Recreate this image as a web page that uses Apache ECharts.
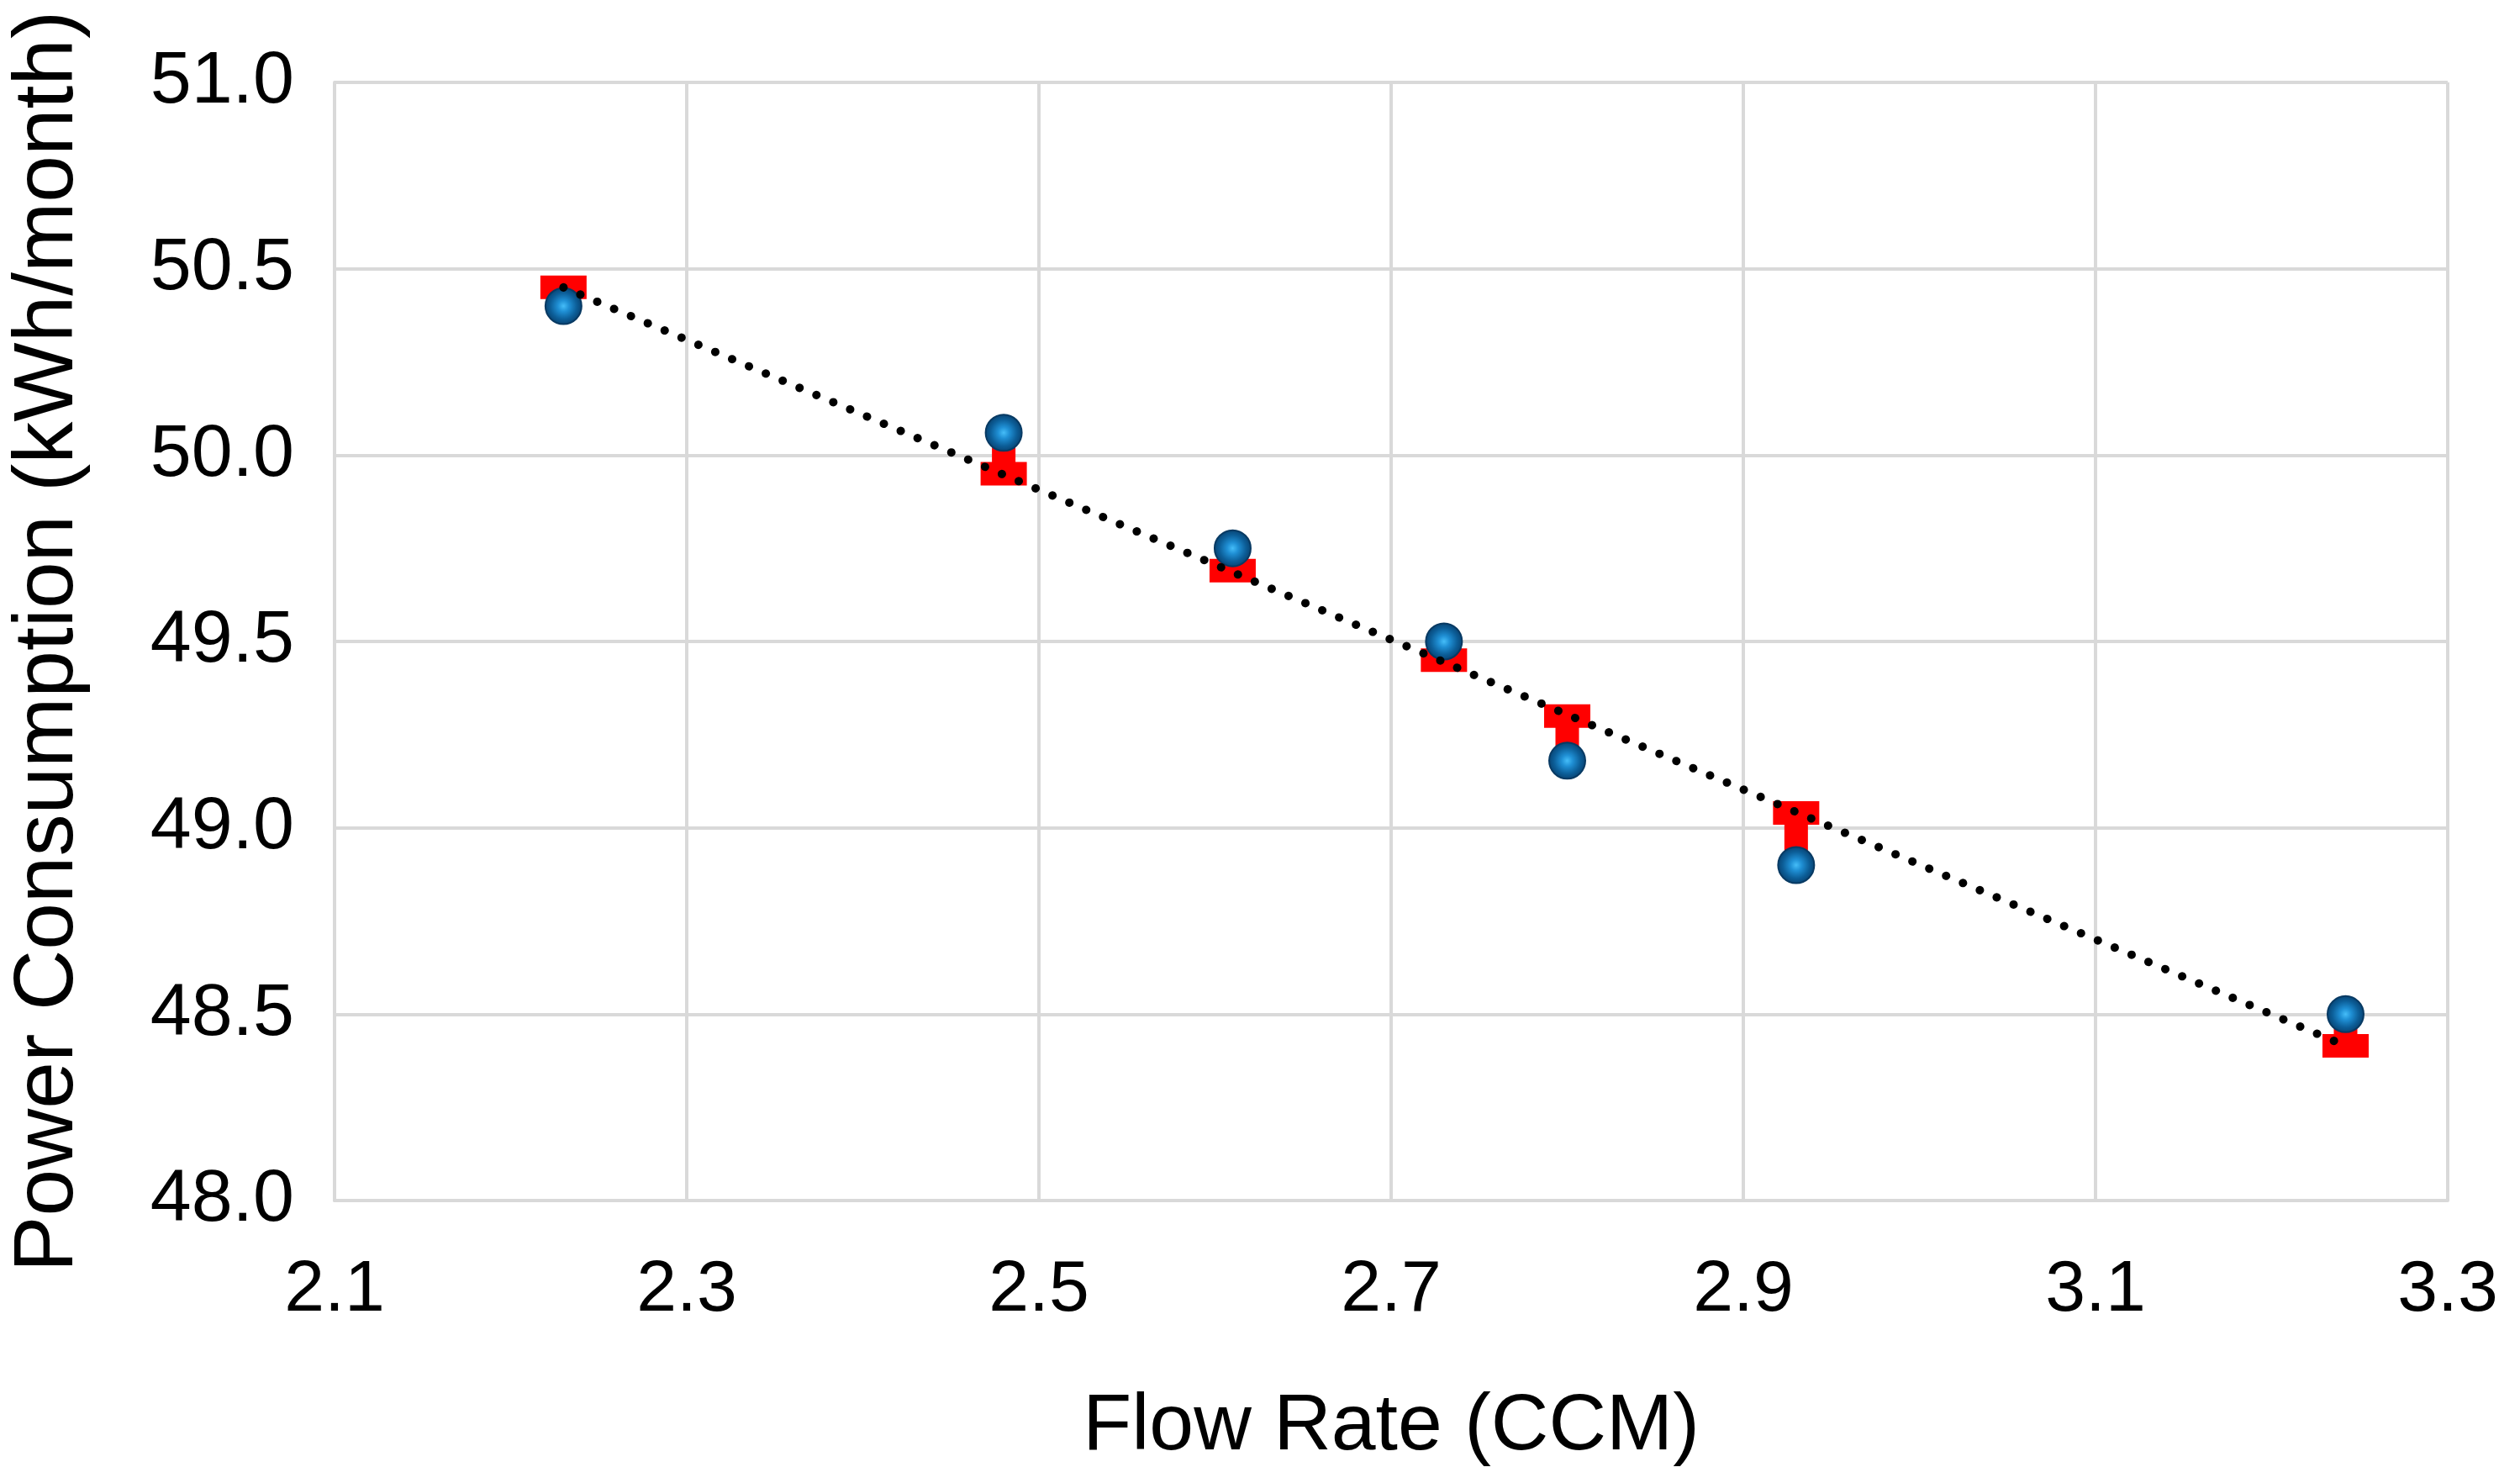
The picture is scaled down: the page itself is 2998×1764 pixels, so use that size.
<!DOCTYPE html>
<html>
<head>
<meta charset="utf-8">
<script src="https://cdn.jsdelivr.net/npm/echarts@6/dist/echarts.min.js"></script>
<style>
html,body{margin:0;padding:0;background:#fff;}
#c{width:2998px;height:1764px;}
</style>
</head>
<body>
<div id="c"></div>
<script>
// Data
var flowRate = [2.23, 2.48, 2.61, 2.73, 2.80, 2.93, 3.242];
var measured = [50.40, 50.06, 49.75, 49.50, 49.18, 48.90, 48.50];
var predicted = [50.45, 49.95, 49.69, 49.45, 49.30, 49.04, 48.415];
var trendX = [2.23, 3.242];
var trendY = [50.45, 48.415];
var xTicks = [2.1, 2.3, 2.5, 2.7, 2.9, 3.1, 3.3];
var yTicks = [48.0, 48.5, 49.0, 49.5, 50.0, 50.5, 51.0];

var FONT = "'Liberation Sans', Arial, sans-serif";
var GRID = '#d9d9d9';

var chart = echarts.init(document.getElementById('c'), null, {renderer: 'canvas'});

var option = {
  backgroundColor: '#ffffff',
  animation: false,
  grid: {left: 398, right: 86, top: 98, bottom: 336, containLabel: false},
  xAxis: {
    type: 'value',
    min: xTicks[0],
    max: xTicks[xTicks.length - 1],
    interval: 0.2,
    name: 'Flow Rate (CCM)',
    nameLocation: 'middle',
    nameGap: 222,
    nameTextStyle: {fontFamily: FONT, fontSize: 95, color: '#000'},
    axisLine: {show: true, lineStyle: {color: GRID, width: 4}},
    axisTick: {show: false},
    axisLabel: {
      fontFamily: FONT, fontSize: 86, color: '#000', margin: 64,
      formatter: function (v) { return v.toFixed(1); }
    },
    splitLine: {show: true, lineStyle: {color: GRID, width: 4}}
  },
  yAxis: {
    type: 'value',
    min: yTicks[0],
    max: yTicks[yTicks.length - 1],
    interval: 0.5,
    name: 'Power Consumption (kWh/month)',
    nameLocation: 'middle',
    nameGap: 290,
    nameTextStyle: {fontFamily: FONT, fontSize: 100, color: '#000'},
    axisLine: {show: true, lineStyle: {color: GRID, width: 4}},
    axisTick: {show: false},
    axisLabel: {
      fontFamily: FONT, fontSize: 88, color: '#000', margin: 48,
      formatter: function (v) { return v.toFixed(1); }
    },
    splitLine: {show: true, lineStyle: {color: GRID, width: 4}}
  },
  series: [
    {
      type: 'custom',
      z: 2,
      data: flowRate.map(function (x, i) { return [x, measured[i], predicted[i]]; }),
      encode: {x: 0, y: [1, 2]},
      renderItem: function (params, api) {
        var p1 = api.coord([api.value(0), api.value(1)]);
        var p2 = api.coord([api.value(0), api.value(2)]);
        return {
          type: 'rect',
          shape: {x: p1[0] - 14, y: Math.min(p1[1], p2[1]), width: 28, height: Math.abs(p2[1] - p1[1])},
          style: {fill: '#ff0000'}
        };
      }
    },
    {
      type: 'scatter',
      z: 3,
      symbol: 'rect',
      symbolSize: [55, 28],
      itemStyle: {color: '#ff0000', opacity: 1},
      data: flowRate.map(function (x, i) { return [x, predicted[i]]; })
    },
    {
      type: 'scatter',
      z: 4,
      symbol: 'circle',
      symbolSize: 43,
      itemStyle: {
        opacity: 1,
        color: {
          type: 'radial', x: 0.5, y: 0.5, r: 0.5,
          colorStops: [
            {offset: 0, color: '#45bdf8'},
            {offset: 0.3, color: '#1f8fd4'},
            {offset: 0.7, color: '#0c5e98'},
            {offset: 1, color: '#084271'}
          ]
        },
        borderColor: '#083a63',
        borderWidth: 2
      },
      data: flowRate.map(function (x, i) { return [x, measured[i]]; })
    },
    {
      type: 'line',
      z: 5,
      symbol: 'none',
      silent: true,
      lineStyle: {color: '#000', width: 10, type: [0.1, 21.7], cap: 'round'},
      data: trendX.map(function (x, i) { return [x, trendY[i]]; })
    }
  ]
};
chart.setOption(option);
</script>
</body>
</html>
